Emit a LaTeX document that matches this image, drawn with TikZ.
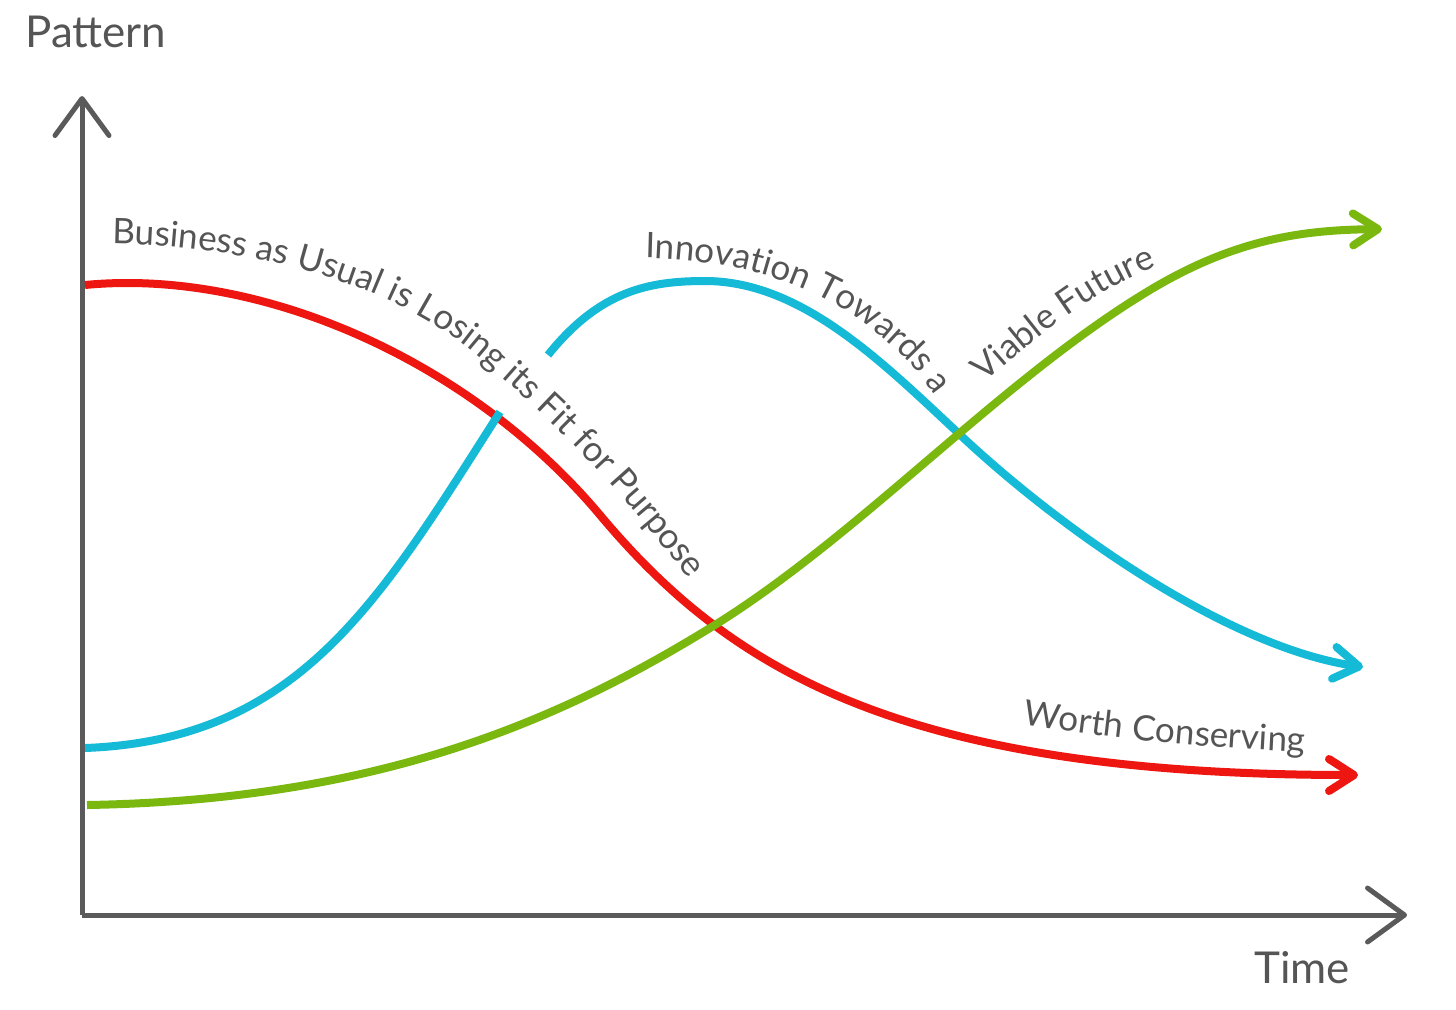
\documentclass[tikz,border=0pt]{standalone}
\usepackage{fontspec}
\setmainfont{Lato}
\usetikzlibrary{arrows.meta,decorations.text}
\definecolor{bizred}{HTML}{EE1610}
\definecolor{innocyan}{HTML}{14BAD6}
\definecolor{futgreen}{HTML}{7AB80F}
\definecolor{axisgrey}{HTML}{5A5A5A}
\definecolor{labelgrey}{HTML}{555555}
\newcommand{\curvefont}{\fontsize{20}{24}\selectfont}
\newcommand{\axisfont}{\fontsize{25}{30}\selectfont}

\begin{document}
\begin{tikzpicture}[x=0.02cm, y=-0.02cm,
    axis/.style={line width=0.1cm, axisgrey, -{Straight Barb[length=0.74cm, width=1.08cm, round]}},
    trend/.style={line width=0.16cm, -{Straight Barb[length=0.5cm, width=0.64cm, round]}},
    axislabel/.style={inner sep=0pt, anchor=base west, text=labelgrey, font=\axisfont},
    curvelabel/.style={decorate, decoration={text along path, text align=left, text color=labelgrey}}]

    \useasboundingbox (0,0) rectangle (1456,1009);

    % axes
    \coordinate (origin) at (82,915);
    \coordinate (ytip) at (82,96);
    \coordinate (xtip) at (1407,915);
    \draw[axis] (origin) -- (ytip);
    \draw[axis] (origin) -- (xtip);
    \node[axislabel] (pattern) at (25,47) {Pattern};
    \node[axislabel] (time) at (1254,983) {Time};

    % curves
    \draw[trend, bizred] (85,285) .. controls (260,268) and (470,360) .. (600,515)
        .. controls (730,670) and (900,775) .. (1358,775);
    \draw[trend, innocyan, -] (85,748) .. controls (300,740) and (380,600) .. (500,412);
    \draw[trend, innocyan] (548,355) .. controls (600,290) and (650,281) .. (705,281)
        .. controls (800,281) and (880,360) .. (955,430)
        .. controls (1060,530) and (1230,648) .. (1363,667);
    \draw[trend, futgreen] (87,805) .. controls (380,800) and (560,720) .. (710,628)
        .. controls (860,536) and (1000,380) .. (1150,290)
        .. controls (1240,236) and (1310,230) .. (1382,229);

    % labels along the curves
    \path[curvelabel, decoration={text={|\curvefont|Business as Usual is Losing its Fit for Purpose}}]
        (112,244) .. controls (260,246) and (390,285) .. (470,350)
        .. controls (560,425) and (620,490) .. (690,580) -- (760,680);
    \path[curvelabel, decoration={text={|\curvefont|Innovation Towards a}}]
        (645,258) .. controls (750,260) and (860,290) .. (935,395) -- (975,470);
    \path[curvelabel, decoration={text={|\curvefont|Viable Future}}]
        (985,383) .. controls (1045,330) and (1100,285) .. (1170,262) -- (1250,240);
    \path[curvelabel, decoration={text={|\curvefont|Worth Conserving}}]
        (1022,724) .. controls (1100,737) and (1200,748) .. (1310,752) -- (1400,754);
\end{tikzpicture}
\end{document}
